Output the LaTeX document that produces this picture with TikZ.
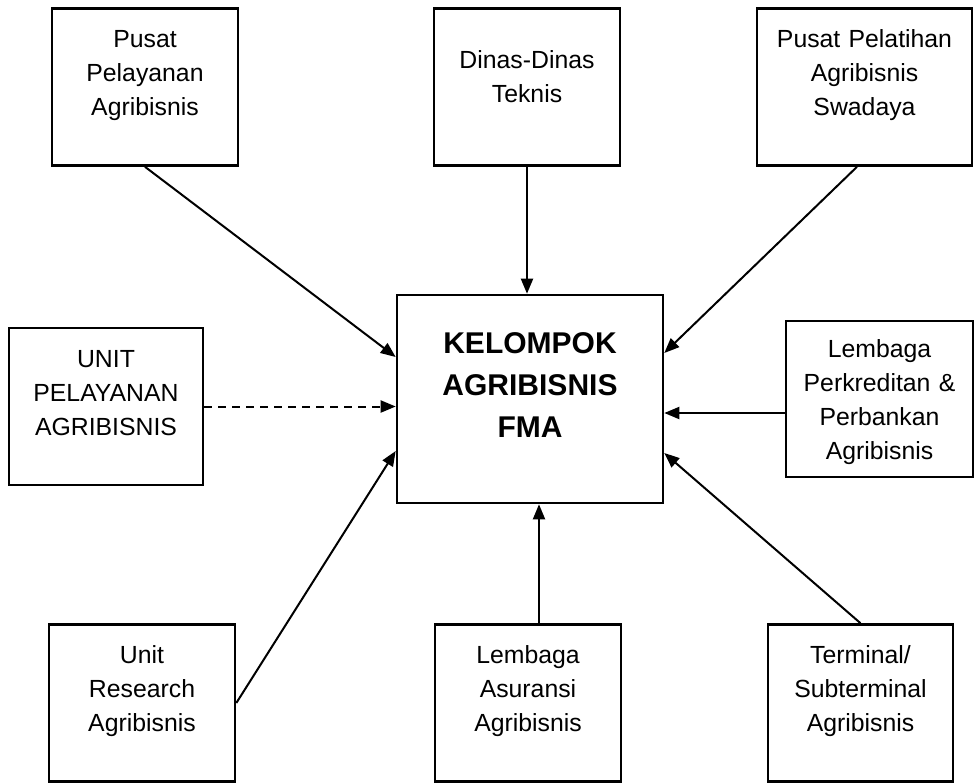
\documentclass[tikz,border=0pt]{standalone}
\usepackage{fontspec}
\setmainfont{Liberation Sans}
\usepackage{tikz}
\usetikzlibrary{calc,arrows.meta,positioning}
\newcommand{\boxfont}{\fontsize{12.4}{17}\selectfont}
\newcommand{\fmafont}{\fontsize{15}{21}\selectfont\bfseries}

\begin{document}
\begin{tikzpicture}[x=0.5pt,y=-0.5pt,
  box/.style={draw,line width=1.3pt,inner sep=0pt,align=center,font=\boxfont,
    text height=0pt,text depth=40pt,minimum height=78.5pt},
  link/.style={line width=1pt,-{Triangle[length=7.5pt,width=6pt]}}]
\useasboundingbox (0,0) rectangle (975,783);
\node[box,text width=93pt] (pusat) at (145,87) {Pusat\\Pelayanan\\Agribisnis};
\node[box,text width=93pt,text depth=19pt] (dinas) at (527,87) {Dinas-Dinas\\Teknis};
\node[box,text width=107.5pt] (pelatihan) at (864.5,87) {Pusat Pelatihan\\Agribisnis\\Swadaya};
\node[box,text width=97pt,text depth=39.5pt] (unit) at (106,406.5) {UNIT\\PELAYANAN\\AGRIBISNIS};
\node[box,text width=133pt,minimum height=104pt,text depth=46pt,font=\fmafont] (fma) at (530,399) {KELOMPOK\\AGRIBISNIS\\FMA};
\node[box,text width=93.5pt,minimum height=78pt,text depth=42pt] (kredit) at (879.5,399) {Lembaga\\Perkreditan \&\\Perbankan\\Agribisnis};
\node[box,text width=93pt] (riset) at (142,703) {Unit\\Research\\Agribisnis};
\node[box,text width=93pt] (asuransi) at (528,703) {Lembaga\\Asuransi\\Agribisnis};
\node[box,text width=92.5pt] (terminal) at (860.5,703) {Terminal/\\Subterminal\\Agribisnis};
\coordinate (k) at ([yshift=-7pt]kredit.west);
\coordinate (a) at ([xshift=5.5pt]asuransi.north);
\draw[link] (pusat.south) -- ([yshift=21pt]fma.west);
\draw[link] (dinas.south) -- (dinas.south |- fma.north);
\draw[link] ([xshift=-3.75pt]pelatihan.south) -- ([yshift=23pt]fma.east);
\draw[link,dash pattern=on 4pt off 3pt] (unit.east) -- (unit.east -| fma.west);
\draw[link] (k) -- (k -| fma.east);
\draw[link] (riset.east) -- ([yshift=-26pt]fma.west);
\draw[link] (a) -- (a |- fma.south);
\draw[link] (terminal.north) -- ([yshift=-27pt]fma.east);
\end{tikzpicture}
\end{document}
